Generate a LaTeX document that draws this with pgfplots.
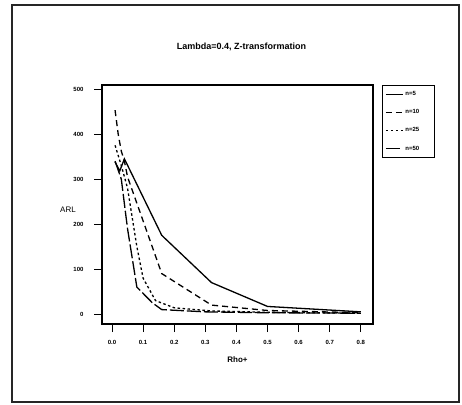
\documentclass[border=0pt]{standalone}
\usepackage{fontspec}
\setmainfont{Liberation Sans}
\usepackage{pgfplots}
\pgfplotsset{compat=1.18}

\begin{document}
\begin{tikzpicture}[x=1pt,y=1pt]
\path[use as bounding box] (0,0) rectangle (462,404);
\draw[line width=1.2pt, black!85] (12,2) rectangle (459,399);
\begin{axis}[
  at={(102pt,80pt)}, anchor=south west,
  scale only axis,
  width=271pt, height=239pt,
  xmin=-0.032, xmax=0.839,
  ymin=-22, ymax=509,
  xtick={0,0.1,...,0.8},
  ytick={0,100,200,300,400,500},
  x tick label style={/pgf/number format/fixed, /pgf/number format/fixed zerofill,
    /pgf/number format/precision=1, yshift=-5pt},
  y tick label style={xshift=-7pt},
  /pgf/number format/assume math mode=true,
  tick label style={font=\bfseries\fontsize{6}{7}\selectfont},
  tick align=outside,
  major tick length=8pt,
  xtick pos=bottom, ytick pos=left,
  axis line style={line width=1.1pt},
  tick style={line width=0.9pt, black},
  title={Lambda=0.4, Z-transformation},
  title style={font=\fontsize{9}{10}\selectfont\bfseries, at={(0.515,1)}, yshift=25pt},
  xlabel={Rho+},
  xlabel style={font=\fontsize{8}{9}\selectfont\bfseries, yshift=-5pt},
  legend style={at={(1,1)}, anchor=north west, xshift=9pt,
    font=\bfseries\fontsize{6}{7}\selectfont, draw=black, line width=0.9pt,
    row sep=8.5pt, inner xsep=3pt, inner ysep=4pt,
    legend cell align=left},
  legend image code/.code={\draw[#1, line width=1pt] (0pt,0pt) -- (17pt,0pt);},
  every axis plot/.append style={line width=1.3pt, black},
]
\addplot[solid] coordinates {
  (0.01,338) (0.025,318) (0.04,345) (0.16,175) (0.32,70) (0.5,17) (0.8,5)};
\addplot[dash pattern=on 6pt off 4pt] coordinates {
  (0.01,453) (0.02,400) (0.03,362) (0.04,340) (0.05,305) (0.16,90)
  (0.32,20) (0.5,8) (0.8,3)};
\addplot[dash pattern=on 2.5pt off 2.5pt] coordinates {
  (0.01,375) (0.03,330) (0.05,280) (0.08,150) (0.1,80) (0.14,30)
  (0.2,14) (0.32,7) (0.5,4) (0.8,2)};
\addplot[dash pattern=on 14pt off 3pt] coordinates {
  (0.01,340) (0.03,300) (0.05,190) (0.08,60) (0.13,25) (0.16,10)
  (0.3,5) (0.5,3) (0.8,2)};
\legend{n=5\hspace*{13pt}\mbox{}, n=10\hspace*{10pt}\mbox{}, n=25\hspace*{10pt}\mbox{}, n=50\hspace*{10pt}\mbox{}}
\end{axis}
\node[font=\fontsize{8}{9}\selectfont] at (68,194) {ARL};
\end{tikzpicture}
\end{document}
